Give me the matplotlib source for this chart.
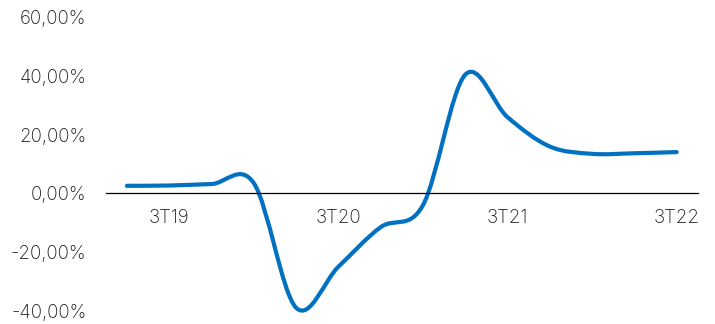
import numpy as np
import matplotlib.pyplot as plt
from matplotlib.path import Path
from matplotlib.patches import PathPatch
from matplotlib.ticker import FuncFormatter

plt.rcParams['font.family'] = ['Inter', 'DejaVu Sans']
plt.rcParams['font.weight'] = 'light'

# quarterly values, 2T19 .. 3T22 (in %)
quarters = ['2T19', '3T19', '4T19', '1T20', '2T20', '3T20', '4T20',
            '1T21', '2T21', '3T21', '4T21', '1T22', '2T22', '3T22']
values = [2.6, 2.7, 3.2, 3.5, -39.0, -25.0, -11.5,
          -4.0, 40.5, 26.0, 16.0, 13.5, 13.7, 14.1]
shown_labels = ['3T19', '3T20', '3T21', '3T22']
yticks = [-40, -20, 0, 20, 40, 60]

x = np.arange(len(quarters), dtype=float)
y = np.array(values)

# smoothed line (Catmull-Rom style bezier, like a spreadsheet "smooth line")
verts = [(x[0], y[0])]
codes = [Path.MOVETO]
n = len(x)
for i in range(n - 1):
    p_prev = np.array([x[max(i - 1, 0)], y[max(i - 1, 0)]])
    p0 = np.array([x[i], y[i]])
    p1 = np.array([x[i + 1], y[i + 1]])
    p_next = np.array([x[min(i + 2, n - 1)], y[min(i + 2, n - 1)]])
    c1 = p0 + (p1 - p_prev) / 6
    c2 = p1 - (p_next - p0) / 6
    verts += [tuple(c1), tuple(c2), tuple(p1)]
    codes += [Path.CURVE4] * 3

fig = plt.figure(figsize=(7.15, 3.24), dpi=100)
ax = fig.add_axes([0.148, 0.041, 0.828, 0.905])

ax.add_patch(PathPatch(Path(verts, codes), facecolor='none',
                       edgecolor='#0070C0', linewidth=3.0,
                       capstyle='round', joinstyle='round', clip_on=False))

ax.set_xlim(-0.5, len(quarters) - 0.5)
ax.set_ylim(-40, 60)

for s in ['top', 'right', 'left']:
    ax.spines[s].set_visible(False)
ax.spines['bottom'].set_position(('data', 0))
ax.spines['bottom'].set_linewidth(0.9)
ax.spines['bottom'].set_color('black')

ax.set_xticks([quarters.index(q) for q in shown_labels])
ax.set_xticklabels(shown_labels)
ax.set_yticks(yticks)
ax.yaxis.set_major_formatter(FuncFormatter(lambda v, p: f'{v:.2f}%'.replace('.', ',')))
ax.tick_params(axis='x', length=0, pad=11, labelsize=13.5, labelcolor='#1a1a1a')
ax.tick_params(axis='y', length=0, pad=14, labelsize=13.5, labelcolor='#1a1a1a')

fig.savefig('out.png', dpi=100)
